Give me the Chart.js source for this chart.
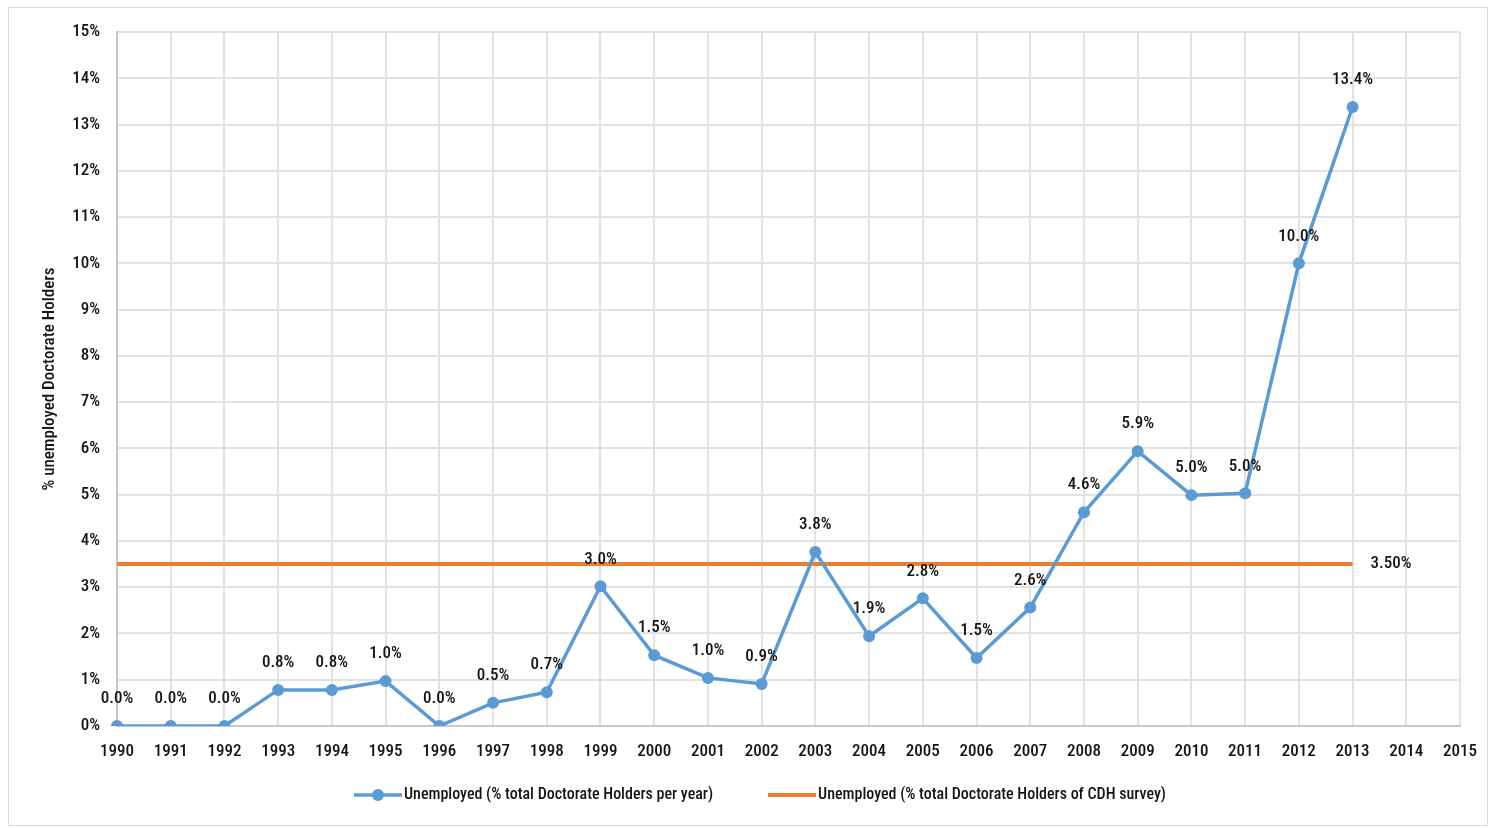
<!DOCTYPE html>
<html>
<head>
<meta charset="utf-8">
<script src="https://cdn.jsdelivr.net/npm/chart.js@4/dist/chart.umd.min.js"></script>
<style>
  html, body { margin: 0; padding: 0; background: #fff; }
  .chart-box {
    position: absolute; left: 8px; top: 7px;
    width: 1480px; height: 819px;
    border: 1px solid #dcdcdc; box-sizing: border-box;
  }
  .chart-box canvas { display: block; }
</style>
</head>
<body>
<div class="chart-box"><canvas id="unempChart"></canvas></div>
<script>
// 색 / 글꼴 (Roboto를 condensed 폭으로)
const BLUE   = '#5b9bd5';
const ORANGE = '#ed7d31';
const GRID   = '#e2e2e2';
const INK    = '#141414';
const FAMILY = 'Roboto, sans-serif';
const STRETCH = '500 condensed';   // Chart.js font.weight 자리에 넣어서 ctx.font에 들어가게 함
const LABEL_FONT  = '500 condensed 17px Roboto, sans-serif';
const LEGEND_FONT = '500 condensed 16px Roboto, sans-serif';

// 데이터
const years = ['1990','1991','1992','1993','1994','1995','1996','1997','1998','1999',
               '2000','2001','2002','2003','2004','2005','2006','2007','2008','2009',
               '2010','2011','2012','2013','2014','2015'];
const perYear = [0.0, 0.0, 0.0, 0.78, 0.78, 0.97, 0.0, 0.50, 0.73, 3.02,
                 1.53, 1.04, 0.91, 3.76, 1.94, 2.76, 1.47, 2.56, 4.62, 5.94,
                 4.99, 5.03, 10.0, 13.38];
const cdhSurvey = [3.5, 3.5, 3.5, 3.5, 3.5, 3.5, 3.5, 3.5, 3.5, 3.5,
                   3.5, 3.5, 3.5, 3.5, 3.5, 3.5, 3.5, 3.5, 3.5, 3.5,
                   3.5, 3.5, 3.5, 3.5];
const yTicks = [0, 1, 2, 3, 4, 5, 6, 7, 8, 9, 10, 11, 12, 13, 14, 15];

const seriesNames = [
  'Unemployed (% total Doctorate Holders per year)',
  'Unemployed (% total Doctorate Holders of CDH survey)'
];

// 점 위 값 라벨
const valueLabels = {
  id: 'valueLabels',
  afterDatasetsDraw(chart) {
    const ctx = chart.ctx;
    ctx.save();
    ctx.font = LABEL_FONT;
    ctx.fillStyle = INK;
    ctx.textBaseline = 'middle';
    // 파란 선: 모든 점 위
    const m0 = chart.getDatasetMeta(0);
    ctx.textAlign = 'center';
    m0.data.forEach((pt, i) => {
      ctx.fillText(perYear[i].toFixed(1) + '%', pt.x, pt.y - 27);
    });
    // 주황 선: 끝점 오른쪽
    const m1 = chart.getDatasetMeta(1);
    const last = m1.data[m1.data.length - 1];
    ctx.textAlign = 'left';
    ctx.fillText(cdhSurvey[cdhSurvey.length - 1].toFixed(2) + '%', last.x + 18, last.y);
    ctx.restore();
  }
};

// 아래쪽 범례 (선 + 점 마커)
const lineLegend = {
  id: 'lineLegend',
  afterDraw(chart) {
    const ctx = chart.ctx;
    const markW = 48, gap = 2, between = 55;
    ctx.save();
    ctx.font = LEGEND_FONT;
    const widths = seriesNames.map(t => markW + gap + ctx.measureText(t).width);
    const total = widths[0] + between + widths[1];
    let x = chart.width / 2 - total / 2 + 12;
    const y = 787;
    chart.data.datasets.forEach((ds, i) => {
      ctx.strokeStyle = ds.borderColor;
      ctx.lineWidth = ds.borderWidth;
      ctx.beginPath();
      ctx.moveTo(x, y); ctx.lineTo(x + markW, y);
      ctx.stroke();
      if (ds.pointRadius > 0) {
        ctx.fillStyle = ds.pointBackgroundColor;
        ctx.beginPath();
        ctx.arc(x + markW / 2, y, 6, 0, Math.PI * 2);
        ctx.fill();
      }
      ctx.fillStyle = INK;
      ctx.textAlign = 'left';
      ctx.textBaseline = 'middle';
      ctx.fillText(seriesNames[i], x + markW + gap, y);
      x += widths[i] + between;
    });
    ctx.restore();
  }
};

const tickFont = { family: FAMILY, size: 17, weight: STRETCH };

const el = document.getElementById('unempChart');
new Chart(el, {
  type: 'line',
  data: {
    labels: years,
    datasets: [
      { label: seriesNames[0], data: perYear,
        borderColor: BLUE, backgroundColor: BLUE, pointBackgroundColor: BLUE,
        pointBorderWidth: 0, pointRadius: 6, borderWidth: 3.5, tension: 0 },
      { label: seriesNames[1], data: cdhSurvey,
        borderColor: ORANGE, backgroundColor: ORANGE, pointBackgroundColor: ORANGE,
        pointRadius: 0, borderWidth: 4, tension: 0 }
    ]
  },
  options: {
    responsive: true,
    maintainAspectRatio: false,
    animation: false,
    devicePixelRatio: 1,
    layout: { padding: { left: 0, top: 24, right: 27, bottom: 59 } },
    plugins: { legend: { display: false }, tooltip: { enabled: false } },
    scales: {
      x: {
        offset: false,
        grid: { color: GRID, lineWidth: 2, drawTicks: true, tickLength: 14, tickColor: 'transparent' },
        border: { color: '#c8c8c8', width: 2 },
        ticks: { color: INK, font: tickFont, padding: 2, maxRotation: 0, autoSkip: false },
        afterFit: s => { s.height = 40; }
      },
      y: {
        min: 0, max: 15,
        afterBuildTicks: s => { s.ticks = yTicks.map(v => ({ value: v })); },
        grid: { color: GRID, lineWidth: 2, drawTicks: true, tickLength: 14, tickColor: 'transparent' },
        border: { color: '#c8c8c8', width: 2 },
        ticks: { color: INK, font: tickFont, padding: 3, callback: v => v + '%' },
        title: { display: true, text: '% unemployed Doctorate Holders', color: INK,
                 font: tickFont, padding: { top: 31 } },
        afterFit: s => { s.width = 108; }
      }
    }
  },
  plugins: [valueLabels, lineLegend]
});
</script>
</body>
</html>
